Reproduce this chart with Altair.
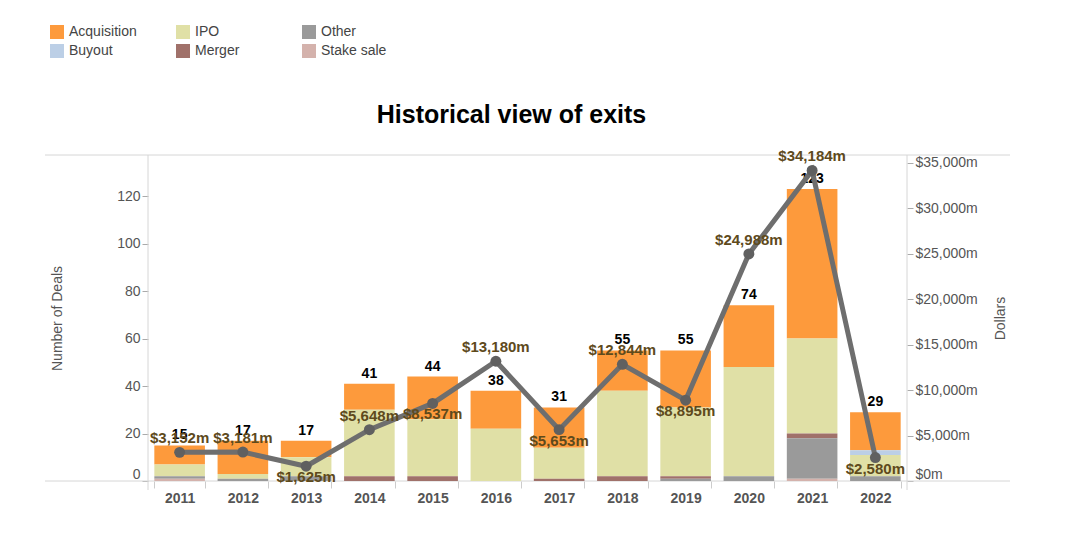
import altair as alt
import pandas as pd

years = ["2011", "2012", "2013", "2014", "2015", "2016", "2017", "2018", "2019", "2020", "2021", "2022"]
acquisition = [8, 14, 7, 11, 18, 16, 17, 17, 24, 26, 63, 16]
buyout = [0, 0, 0, 0, 0, 0, 0, 0, 0, 0, 0, 2]
ipo = [5, 2, 8, 28, 24, 22, 13, 36, 29, 46, 40, 9]
merger = [0, 0, 0, 2, 2, 0, 1, 2, 1, 0, 2, 0]
other = [1, 1, 2, 0, 0, 0, 0, 0, 1, 2, 17, 2]
stake_sale = [1, 0, 0, 0, 0, 0, 0, 0, 0, 0, 1, 0]
dollars = [3152, 3181, 1625, 5648, 8537, 13180, 5653, 12844, 8895, 24988, 34184, 2580]

categories = ["Acquisition", "Buyout", "IPO", "Merger", "Other", "Stake sale"]
# stacking order: bottom -> top
stack_order = ["Stake sale", "Other", "Merger", "IPO", "Buyout", "Acquisition"]
# legend order (row-major over 3 columns so that columns read Acq/Buyout, IPO/Merger, Other/Stake sale)
legend_order = ["Acquisition", "IPO", "Other", "Buyout", "Merger", "Stake sale"]
colors = {"Acquisition": "#fd9a3c", "IPO": "#e0e0a6", "Other": "#9a9a9a",
          "Buyout": "#bccfe6", "Merger": "#a0716a", "Stake sale": "#d4b2ac"}
label_below = ["2013", "2015", "2017", "2019", "2022"]

series = {"Acquisition": acquisition, "Buyout": buyout, "IPO": ipo,
          "Merger": merger, "Other": other, "Stake sale": stake_sale}
rows = []
for cat in categories:
    for y, v in zip(years, series[cat]):
        rows.append({"year": y, "type": cat, "deals": v, "ord": stack_order.index(cat)})
deals_df = pd.DataFrame(rows)
money_df = pd.DataFrame({"year": years, "dollars": dollars})
money_df["below"] = money_df["year"].isin(label_below)

W, H = 759, 326
FONT = "Liberation Sans"

xenc = alt.X("year:N", title=None, sort=years,
             scale=alt.Scale(paddingInner=0.2, paddingOuter=0.1),
             axis=alt.Axis(labelFont=FONT, labelFontSize=14, labelFontWeight="bold",
                           labelColor="#555555", labelAngle=0, domain=False,
                           tickBand="extent", tickSize=7, tickColor="#cccccc",
                           labelPadding=3))

yleft = alt.Scale(domain=[0, 137.3], nice=False, zero=True)
yright = alt.Scale(domain=[0, 35880], nice=False, zero=True)

bars = alt.Chart(deals_df).mark_bar().encode(
    x=xenc,
    y=alt.Y("deals:Q", stack="zero", scale=yleft,
            axis=alt.Axis(title="Number of Deals", values=[0, 20, 40, 60, 80, 100, 120],
                          grid=False, domain=False, tickSize=6, tickColor="#aaaaaa",
                          labelFont=FONT, labelFontSize=14, labelColor="#555555",
                          labelFlush=True, labelPadding=2,
                          titleFont=FONT, titleFontSize=14, titleFontWeight="normal",
                          titleColor="#555555", titleX=-91, titleY=H / 2,
                          titleAngle=-90, titleAlign="center", titleBaseline="middle")),
    color=alt.Color("type:N", scale=alt.Scale(domain=legend_order,
                                              range=[colors[c] for c in legend_order]),
                    legend=alt.Legend(title=None, orient="none", legendX=-98, legendY=-130,
                                      columns=3, direction="horizontal", gridAlign="all",
                                      columnPadding=39, rowPadding=5, padding=0,
                                      symbolType="square", symbolSize=196,
                                      symbolStrokeWidth=0, symbolOffset=0,
                                      labelFont=FONT, labelFontSize=14,
                                      labelColor="#444444", labelOffset=5)),
    order=alt.Order("ord:Q", sort="ascending"),
)

counts = alt.Chart(deals_df).mark_text(
    font=FONT, fontSize=14, fontWeight="bold", color="#000000",
    baseline="bottom", dy=-3
).encode(
    x=alt.X("year:N", sort=years),
    y=alt.Y("sum(deals):Q", scale=yleft),
    text=alt.Text("sum(deals):Q"),
)

left_layer = alt.layer(bars, counts)

line = alt.Chart(money_df).mark_line(color="#6e6e6e", strokeWidth=5).encode(
    x=alt.X("year:N", sort=years),
    y=alt.Y("dollars:Q", scale=yright,
            axis=alt.Axis(orient="right", title="Dollars",
                          values=[0, 5000, 10000, 15000, 20000, 25000, 30000, 35000],
                          labelExpr="'$' + format(datum.value, ',') + 'm'",
                          grid=False, domain=False, tickSize=6, tickColor="#aaaaaa",
                          labelFont=FONT, labelFontSize=14, labelColor="#555555",
                          labelFlush=True, labelPadding=2,
                          titleFont=FONT, titleFontSize=14, titleFontWeight="normal",
                          titleColor="#555555", titleX=93, titleY=H / 2,
                          titleAngle=-90, titleAlign="center", titleBaseline="middle")),
)
points = alt.Chart(money_df).mark_circle(color="#606060", size=120, opacity=1).encode(
    x=alt.X("year:N", sort=years),
    y=alt.Y("dollars:Q", scale=yright),
)
money_text = alt.Chart(money_df).transform_calculate(
    label="'$' + format(datum.dollars, ',') + 'm'"
)
above = money_text.transform_filter("!datum.below").mark_text(
    font=FONT, fontSize=15, fontWeight="bold", color="#5e4a1c", baseline="bottom", dy=-6
).encode(x=alt.X("year:N", sort=years), y=alt.Y("dollars:Q", scale=yright),
         text="label:N")
below = money_text.transform_filter("datum.below").mark_text(
    font=FONT, fontSize=15, fontWeight="bold", color="#5e4a1c", baseline="top", dy=4
).encode(x=alt.X("year:N", sort=years), y=alt.Y("dollars:Q", scale=yright),
         text="label:N")

right_layer = alt.layer(line, points, above, below)

one = alt.Data(values=[{}])
frame_color = "#d6d6d6"
top_line = alt.Chart(one).mark_rule(color=frame_color, strokeWidth=1).encode(
    x=alt.value(-103), x2=alt.value(862), y=alt.value(0))
bottom_line = alt.Chart(one).mark_rule(color=frame_color, strokeWidth=1).encode(
    x=alt.value(-103), x2=alt.value(862), y=alt.value(H))
left_vline = alt.Chart(one).mark_rule(color=frame_color, strokeWidth=1).encode(
    x=alt.value(0), y=alt.value(0), y2=alt.value(H + 9))
right_vline = alt.Chart(one).mark_rule(color=frame_color, strokeWidth=1).encode(
    x=alt.value(W), y=alt.value(0), y2=alt.value(H + 9))

frame = alt.layer(top_line, bottom_line, left_vline, right_vline)

chart = alt.layer(frame, left_layer, right_layer).resolve_scale(
    y="independent", color="independent"
).properties(
    width=W, height=H,
    title=alt.TitleParams("Historical view of exits", font=FONT, fontSize=25,
                          fontWeight="bold", color="#000000", anchor="middle",
                          dx=-16, dy=133, offset=30),
    padding={"left": 140, "top": 147, "right": 170, "bottom": 50},
    autosize="none",
).configure_view(stroke=None)

chart.save("out.html", embed_options={"renderer": "svg", "actions": False})
